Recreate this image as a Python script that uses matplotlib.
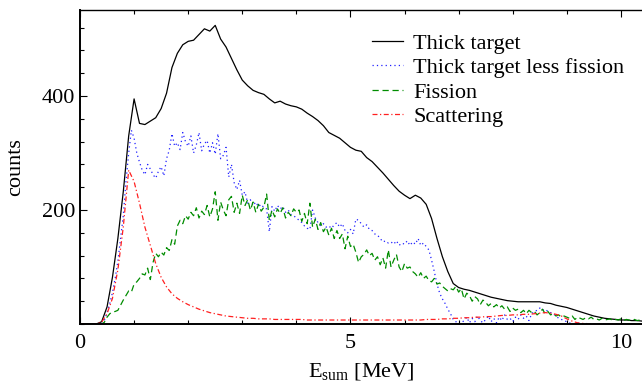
import numpy as np
import matplotlib.pyplot as plt
from matplotlib.ticker import MultipleLocator, FixedLocator

plt.rcParams['font.family'] = ['Liberation Serif', 'DejaVu Serif']
plt.rcParams['mathtext.fontset'] = 'custom'
plt.rcParams['mathtext.rm'] = 'Liberation Serif'
plt.rcParams['mathtext.it'] = 'Liberation Serif:italic'

# energy grids [MeV]
e_coarse = np.round(np.arange(105) * 0.1, 2)
e_fine = np.round(np.arange(209) * 0.05, 3)

# thick target (0.1 MeV steps)
thick = [0, 0, 0, 0, 4, 30, 82, 150, 232, 330,
         395, 352, 350, 356, 362, 378, 405, 450, 475, 490,
         496, 498, 508, 518, 514, 524, 500, 486, 466, 446,
         428, 418, 410, 406, 403, 395, 388, 391, 386, 383,
         381, 377, 370, 364, 357, 348, 336, 331, 326, 318,
         310, 305, 303, 292, 285, 275, 265, 254, 243, 233,
         226, 220, 226, 221, 210, 185, 150, 118, 92, 71,
         64, 61, 59, 56, 53, 50, 47, 45, 43, 41,
         40, 39, 39, 39, 39, 39, 37, 36, 33, 31,
         29, 26, 23, 20, 17, 14, 12, 10, 9, 8,
         7, 7, 6, 6, 5]

# scattering (0.1 MeV steps)
scatter = [0, 0, 0, 0, 3, 18, 45, 95, 170, 270,
           250, 212, 170, 138, 106, 82, 65, 53, 45, 39,
           34, 30, 26, 23, 20, 18, 16, 14, 13, 12,
           11, 10, 10, 9, 9, 9, 8, 8, 8, 8,
           8, 8, 7, 7, 7, 7, 7, 7, 7, 7,
           7, 7, 7, 7, 7, 7, 7, 7, 7, 7,
           7, 7, 7, 7, 8, 8, 8, 9, 9, 10,
           10, 11, 11, 12, 12, 13, 13, 14, 15, 15,
           16, 16, 17, 17, 18, 19, 20, 19, 17, 14,
           9, 5, 2, 1, 0, 0, 0, 0, 0, 0,
           0, 0, 0, 0, 0]

# thick target less fission (0.05 MeV steps)
less_fission = [0, 0, 0, 0, 0, 0, 0, 0, 0, 6,
                20, 36, 55, 80, 110, 150, 190, 250, 300, 340,
                326, 300, 284, 270, 262, 280, 272, 262, 256, 268,
                276, 260, 290, 305, 334, 312, 318, 306, 336, 320,
                312, 330, 300, 314, 336, 304, 316, 322, 300, 318,
                298, 334, 290, 296, 310, 258, 280, 248, 236, 252,
                226, 232, 212, 218, 208, 214, 206, 210, 204, 202,
                162, 206, 198, 208, 202, 206, 196, 200, 192, 190,
                186, 182, 178, 172, 168, 166, 200, 186, 178, 172,
                176, 170, 172, 168, 174, 178, 170, 176, 164, 160,
                166, 158, 184, 182, 176, 170, 174, 166, 164, 158,
                156, 150, 144, 146, 142, 144, 140, 146, 138, 142,
                140, 146, 138, 144, 140, 150, 138, 142, 136, 130,
                112, 92, 70, 54, 44, 36, 26, 18, 8, 4,
                0, 2, 6, 12, 2, 10, 4, 14, 6, 2,
                8, 14, 4, 10, 2, 12, 6, 16, 8, 10,
                4, 12, 8, 16, 10, 14, 6, 18, 22, 24,
                28, 24, 26, 22, 20, 18, 14, 10, 8, 6,
                4, 2, 0, 0, 2, 0, 0, 0, 2, 0,
                0, 0, 0, 0, 0, 0, 0, 0, 0, 0,
                0, 0, 0, 0, 0, 0, 0, 0, 0]

# fission (0.05 MeV steps)
fission = [0, 0, 0, 0, 0, 0, 0, 0, 0, 3,
           12, 18, 21, 22, 24, 33, 42, 50, 58, 56,
           70, 74, 80, 88, 86, 98, 78, 108, 124, 118,
           126, 121, 134, 129, 148, 140, 172, 182, 176, 190,
           184, 196, 190, 204, 186, 198, 192, 208, 188, 202,
           232, 182, 214, 200, 190, 218, 224, 196, 212, 194,
           226, 208, 218, 200, 214, 196, 210, 198, 205, 228,
           182, 200, 188, 202, 194, 204, 186, 196, 190, 202,
           196, 200, 180, 194, 176, 212, 170, 184, 166, 178,
           162, 170, 156, 168, 150, 164, 150, 158, 132, 154,
           136, 140, 126, 108, 118, 122, 130, 120, 124, 112,
           118, 104, 116, 98, 130, 100, 112, 122, 100, 92,
           106, 98, 100, 92, 88, 82, 90, 80, 84, 76,
           74, 80, 70, 72, 66, 62, 58, 62, 60, 66,
           56, 62, 44, 54, 50, 40, 48, 44, 34, 42,
           38, 32, 36, 30, 34, 28, 32, 26, 30, 22,
           28, 24, 26, 20, 24, 18, 24, 20, 22, 16,
           20, 26, 18, 22, 16, 18, 14, 16, 12, 14,
           12, 10, 14, 8, 12, 10, 8, 11, 9, 12,
           8, 9, 7, 10, 7, 8, 9, 6, 8, 7,
           9, 6, 8, 7, 6, 8, 6, 7, 6]

fig = plt.figure(figsize=(6.42, 3.85), dpi=100)
ax = fig.add_axes([80 / 642, 1 - 324 / 385, 1 - 80 / 642, (324 - 10) / 385])

ax.plot(e_coarse, thick, color='black', lw=0.9, label='Thick target')
ax.plot(e_fine, less_fission, color='#2020ff', lw=0.9, ls=(0, (1, 2.5)),
        label='Thick target less fission')
ax.plot(e_fine, fission, color='#008c00', lw=0.9, ls=(0, (5, 3)), label='Fission')
ax.plot(e_coarse, scatter, color='#ff2020', lw=0.9, ls=(0, (4, 2, 1, 2)),
        label='Scattering')

ax.set_xlim(0, 10.39)
ax.set_ylim(0, 551)
ax.xaxis.set_major_locator(FixedLocator([0, 5, 10]))
ax.xaxis.set_minor_locator(MultipleLocator(1))
ax.yaxis.set_major_locator(FixedLocator([200, 400]))
ax.yaxis.set_minor_locator(MultipleLocator(40))
ax.tick_params(which='both', direction='in', top=True, right=False, labelsize=16)
ax.tick_params(which='major', length=5, width=0.8)
ax.tick_params(which='minor', length=3, width=0.8)
ax.tick_params(axis='x', which='major', pad=7)
ax.spines['right'].set_visible(False)
ax.spines['left'].set_linewidth(1.4)
ax.spines['bottom'].set_linewidth(1.4)
ax.spines['top'].set_linewidth(1.0)

ax.set_xlabel(r'E$_{\rm sum}$ [MeV]', fontsize=16, labelpad=6)
ax.set_ylabel('counts', fontsize=16, labelpad=12)

ax.legend(loc='upper left', bbox_to_anchor=(372 / 642, 1 - 33 / 385),
          bbox_transform=fig.transFigure, frameon=False, fontsize=16,
          handlelength=1.4, handletextpad=0.45, labelspacing=0.18,
          borderpad=0, borderaxespad=0)

fig.savefig('out.png', dpi=100)
